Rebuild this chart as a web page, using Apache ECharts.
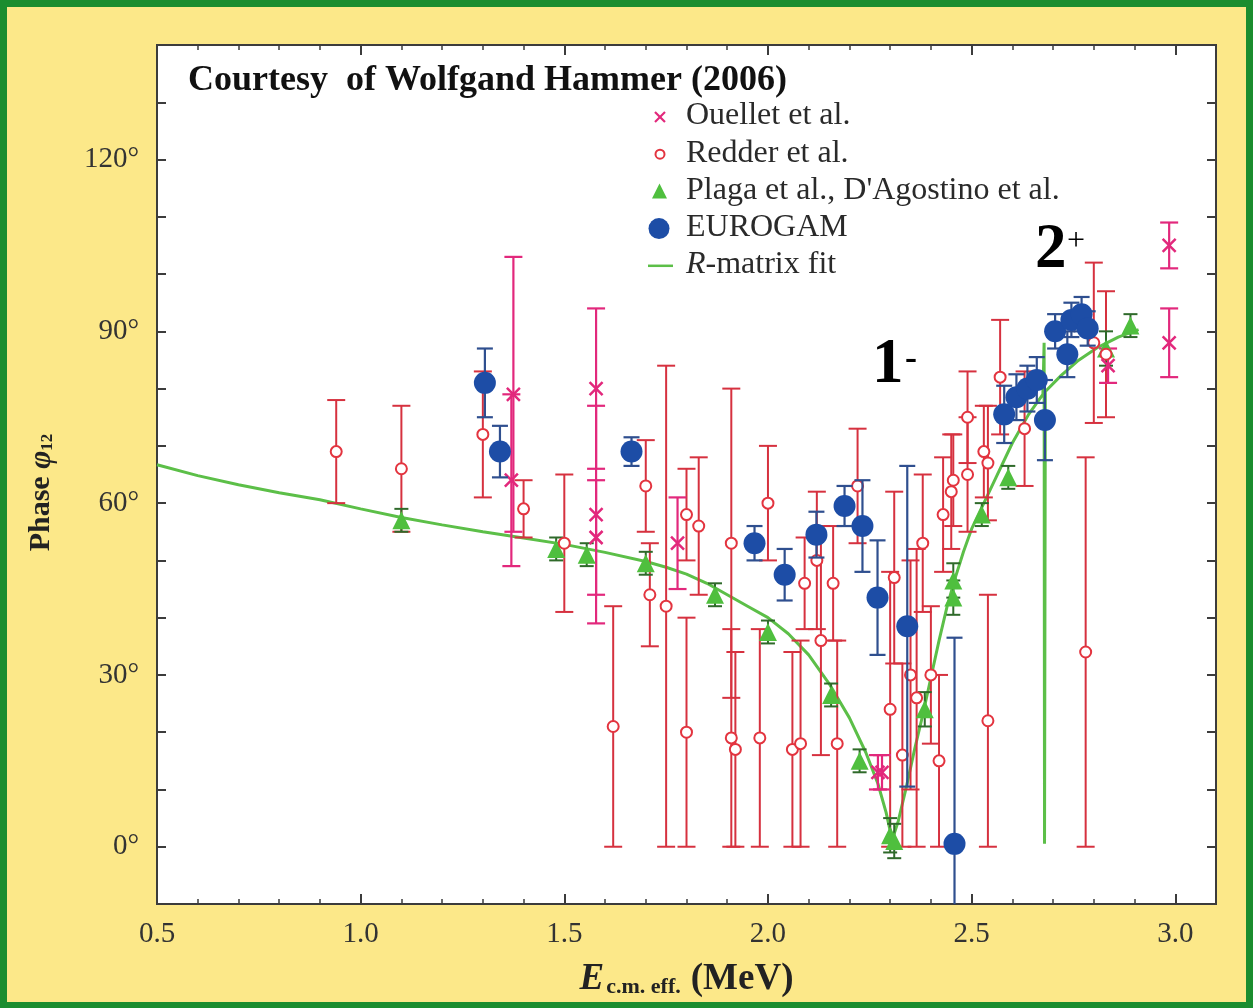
<!DOCTYPE html>
<html>
<head>
<meta charset="utf-8">
<script src="https://cdn.jsdelivr.net/npm/echarts@6/dist/echarts.min.js"></script>
<style>
  html, body { margin: 0; padding: 0; background: #1b8d2f; }
  #chart { width: 1253px; height: 1008px; }
</style>
</head>
<body>
<div id="chart"></div>
<script>
// ---- E1/E2 relative phase phi12 of 12C(alpha,gamma)16O vs effective c.m. energy ----

// R-matrix fit curve (E in MeV, phase in degrees)
const fitE = [0.5, 0.6, 0.7, 0.8, 0.9, 1.0, 1.1, 1.2, 1.3, 1.4, 1.5, 1.6, 1.7, 1.75, 1.8, 1.85, 1.9, 1.95, 2.0,
  2.05, 2.1, 2.15, 2.2, 2.24, 2.27, 2.29, 2.305, 2.32, 2.34, 2.36, 2.38, 2.4, 2.42, 2.44, 2.46, 2.48, 2.5,
  2.53, 2.56, 2.6, 2.64, 2.675, 2.678, 2.679, 2.681, 2.72, 2.76, 2.81, 2.86, 2.91];
const fitPhase = [66.7, 64.8, 63.2, 61.8, 60.6, 59.0, 57.5, 56.2, 55.0, 53.9, 52.8, 51.4, 49.8, 48.8, 47.6, 46.0, 44.0, 42.0, 40.0,
  37.2, 33.5, 28.5, 22.5, 16.5, 11.0, 6.0, 1.2, 4.5, 10.5, 17.0, 23.0, 29.5, 36.0, 42.0, 47.0, 51.5, 55.5,
  60.0, 64.5, 70.5, 75.5, 79.0, 88.0, 0.5, 79.5, 82.3, 84.8, 87.2, 89.0, 90.3];

// Ouellet et al.
const ouelletE = [1.375, 1.37, 1.578, 1.578, 1.578, 1.778, 2.27, 2.28, 2.835, 2.985, 2.985];
const ouelletPhase = [79, 64, 80, 58, 54, 53, 13, 13, 84, 105, 88];
const ouelletErr = [24, 15, 14, 19, 10, 8, 3, 3, 3, 4, 6];

// Redder et al.
const redderE = [0.94, 1.10, 1.30, 1.40, 1.50, 1.62, 1.70, 1.71, 1.75, 1.80, 1.80, 1.83, 1.91, 1.91, 1.92, 1.98,
  2.00, 2.06, 2.08, 2.09, 2.12, 2.13, 2.16, 2.17, 2.22, 2.30, 2.31, 2.33, 2.35, 2.365, 2.38, 2.40, 2.42,
  2.43, 2.45, 2.455, 2.49, 2.49, 2.53, 2.54, 2.54, 2.57, 2.63, 2.78, 2.80, 2.83];
const redderPhase = [69, 66, 72, 59, 53, 21, 63, 44, 42, 58, 20, 56, 53, 19, 17, 19,
  60, 17, 18, 46, 50, 36, 46, 18, 63, 24, 47, 16, 30, 26, 53, 30, 15,
  58, 62, 64, 75, 65, 69, 67, 22, 82, 73, 34, 88, 86];
const redderErr = [9, 11, 11, 5, 12, 21, 8, 9, 42, 8, 20, 12, 27, 19, 17, 19,
  10, 17, 18, 8, 12, 20, 10, 18, 10, 24, 15, 16, 20, 26, 12, 12, 15,
  10, 10, 8, 8, 10, 8, 10, 22, 10, 10, 34, 14, 11];

// Plaga et al., D'Agostino et al.
const plagaE = [1.10, 1.48, 1.555, 1.70, 1.87, 2.00, 2.155, 2.225, 2.30, 2.31, 2.385, 2.455, 2.455, 2.525, 2.59, 2.83, 2.89];
const plagaPhase = [57, 52, 51, 49.5, 44, 37.5, 26.5, 15, 2, 1, 24, 46.5, 43.5, 58, 64.5, 87, 91];
const plagaErr = [2, 2, 2, 2, 2, 2, 2, 2, 3, 3, 3, 3, 3, 2, 2, 3, 2];

// EUROGAM
const eurogamE = [1.305, 1.342, 1.665, 1.967, 2.041, 2.119, 2.188, 2.232, 2.269, 2.342, 2.458,
  2.58, 2.61, 2.637, 2.66, 2.68, 2.705, 2.735, 2.745, 2.77, 2.785];
const eurogamPhase = [81, 69, 69, 53, 47.5, 54.5, 59.5, 56, 43.5, 38.5, 0.5,
  75.5, 78.5, 80, 81.5, 74.5, 90, 86, 92, 93, 90.5];
const eurogamErr = [6, 4.5, 2.5, 3, 4.5, 4, 3.5, 8, 10, 28, 36,
  5, 4, 4, 4, 7, 3, 4, 3, 3, 3];

// axis ticks
const xTickStep = 0.5;
const yTickStep = 10;
const yLabelStep = 30;

const SERIF = '"Liberation Serif", "Times New Roman", serif';
const RED = '#e3343f';
const MAGENTA = '#e2287c';
const GREEN = '#4fbf3e';
const FITGREEN = '#5cbf48';
const BLUE = '#1d4da6';
const FRAME = '#3c3c3c';

function pairs(xs, ys) { return xs.map((x, i) => [x, ys[i]]); }

function errorBars(name, E, phase, err, color, capHalf, width, z) {
  return {
    type: 'custom',
    name: name,
    z: z,
    silent: true,
    data: E.map((e, i) => [e, phase[i] - err[i], phase[i] + err[i]]),
    encode: { x: 0, y: [1, 2] },
    renderItem: function (params, api) {
      const e = api.value(0);
      const lo = api.coord([e, api.value(1)]);
      const hi = api.coord([e, api.value(2)]);
      const cs = params.coordSys;
      const top = cs.y, bot = cs.y + cs.height;
      const yHi = Math.max(hi[1], top);
      const yLo = Math.min(lo[1], bot);
      const st = { stroke: color, lineWidth: width };
      const kids = [{ type: 'line', shape: { x1: lo[0], y1: yHi, x2: lo[0], y2: yLo }, style: st }];
      if (hi[1] >= top) kids.push({ type: 'line', shape: { x1: hi[0] - capHalf, y1: hi[1], x2: hi[0] + capHalf, y2: hi[1] }, style: st });
      if (lo[1] <= bot) kids.push({ type: 'line', shape: { x1: lo[0] - capHalf, y1: lo[1], x2: lo[0] + capHalf, y2: lo[1] }, style: st });
      return { type: 'group', children: kids };
    }
  };
}

const chart = echarts.init(document.getElementById('chart'), null, { renderer: 'canvas' });

// legend rows drawn as graphic elements
const legendRows = [
  { label: 'Ouellet et al.', kind: 'cross' },
  { label: 'Redder et al.', kind: 'ring' },
  { label: "Plaga et al., D'Agostino et al.", kind: 'tri' },
  { label: 'EUROGAM', kind: 'dot' },
  { label: '{i|R}-matrix fit', kind: 'line' }
];
const legendX = 660, legendY0 = 117, legendDy = 37.2;
const legendGraphics = [];
legendRows.forEach((r, i) => {
  const cy = legendY0 + i * legendDy;
  if (r.kind === 'cross') {
    legendGraphics.push({ type: 'line', shape: { x1: legendX - 5, y1: cy - 5, x2: legendX + 5, y2: cy + 5 }, style: { stroke: MAGENTA, lineWidth: 2.2 } });
    legendGraphics.push({ type: 'line', shape: { x1: legendX + 5, y1: cy - 5, x2: legendX - 5, y2: cy + 5 }, style: { stroke: MAGENTA, lineWidth: 2.2 } });
  } else if (r.kind === 'ring') {
    legendGraphics.push({ type: 'circle', shape: { cx: legendX, cy: cy, r: 4.5 }, style: { fill: '#fff', stroke: RED, lineWidth: 2 } });
  } else if (r.kind === 'tri') {
    legendGraphics.push({ type: 'polygon', shape: { points: [[legendX - 8, cy + 7], [legendX + 7, cy + 7], [legendX - 0.5, cy - 8]] }, style: { fill: GREEN } });
  } else if (r.kind === 'dot') {
    legendGraphics.push({ type: 'circle', shape: { cx: legendX - 1, cy: cy, r: 10.5 }, style: { fill: BLUE } });
  } else {
    legendGraphics.push({ type: 'line', shape: { x1: legendX - 12, y1: cy, x2: legendX + 13, y2: cy }, style: { stroke: FITGREEN, lineWidth: 2.5 } });
  }
  legendGraphics.push({
    type: 'text', left: 686, top: cy - 17,
    style: {
      text: r.label, fill: '#2a2a2a', font: '32px ' + SERIF,
      rich: { i: { fontStyle: 'italic', fontSize: 32, fontFamily: SERIF, fill: '#2a2a2a' } }
    }
  });
});

const tickStyle = { color: FRAME, width: 2 };

const option = {
  backgroundColor: '#1b8d2f',
  animation: false,
  graphic: [
    { type: 'rect', shape: { x: 7, y: 7, width: 1239, height: 995 }, style: { fill: '#fce889' }, z: -10, silent: true },
    {
      type: 'text', left: 188, top: 63, z: 50,
      style: { text: 'Courtesy  of Wolfgand Hammer (2006)', fill: '#111', font: 'bold 36px ' + SERIF }
    },
    { type: 'group', z: 50, children: legendGraphics },
    { type: 'text', left: 872, top: 334, z: 50, style: { text: '1', fill: '#000', font: 'bold 63px ' + SERIF } },
    { type: 'text', left: 905, top: 342, z: 50, style: { text: '-', fill: '#000', font: 'bold 36px ' + SERIF } },
    { type: 'text', left: 1035, top: 219, z: 50, style: { text: '2', fill: '#000', font: 'bold 63px ' + SERIF } },
    { type: 'text', left: 1067, top: 226, z: 50, style: { text: '+', fill: '#000', font: '32px ' + SERIF } }
  ],
  grid: {
    left: 157, right: 37, top: 45, bottom: 104,
    show: true, backgroundColor: '#ffffff', borderColor: FRAME, borderWidth: 2
  },
  xAxis: [
    {
      type: 'value', min: 0.5, max: 3.1, interval: xTickStep,
      name: '{e|E}{s|c.m. eff.}   {m|(MeV)}', nameLocation: 'middle', nameGap: 56,
      nameTextStyle: {
        rich: {
          e: { fontFamily: SERIF, fontWeight: 'bold', fontStyle: 'italic', fontSize: 37, color: '#222' },
          s: { fontFamily: SERIF, fontWeight: 'bold', fontSize: 22, color: '#222', padding: [16, 0, 0, 2] },
          m: { fontFamily: SERIF, fontWeight: 'bold', fontSize: 37, color: '#222' }
        }
      },
      axisLine: { show: false, onZero: false },
      axisTick: { inside: true, length: 10, lineStyle: tickStyle },
      minorTick: { show: true, splitNumber: 5, length: 5, lineStyle: { color: FRAME, width: 1.5 } },
      splitLine: { show: false },
      axisLabel: {
        margin: 16, showMaxLabel: false, fontFamily: SERIF, fontSize: 29, color: '#333',
        formatter: v => v.toFixed(1)
      }
    },
    {
      type: 'value', position: 'top', min: 0.5, max: 3.1, interval: xTickStep,
      axisLine: { show: false, onZero: false },
      axisTick: { inside: true, length: 10, lineStyle: tickStyle },
      minorTick: { show: true, splitNumber: 5, length: 5, lineStyle: { color: FRAME, width: 1.5 } },
      splitLine: { show: false }, axisLabel: { show: false }
    }
  ],
  yAxis: [
    {
      type: 'value', min: -10, max: 140, interval: yTickStep,
      name: '{p|Phase }{f|φ}{s|12}', nameLocation: 'middle', nameGap: 100, nameRotate: 90,
      nameTextStyle: {
        padding: [0, 0, 0, -36],
        rich: {
          p: { fontFamily: SERIF, fontWeight: 'bold', fontSize: 30, color: '#222' },
          f: { fontFamily: SERIF, fontWeight: 'bold', fontStyle: 'italic', fontSize: 31, color: '#222' },
          s: { fontFamily: SERIF, fontWeight: 'bold', fontSize: 17, color: '#222', padding: [12, 0, 0, 0] }
        }
      },
      axisLine: { show: false, onZero: false },
      axisTick: { inside: true, length: 9, lineStyle: tickStyle },
      splitLine: { show: false },
      axisLabel: {
        margin: 18, fontFamily: SERIF, fontSize: 29, color: '#333',
        formatter: v => (v % yLabelStep === 0 ? v + '°' : '')
      }
    },
    {
      type: 'value', position: 'right', min: -10, max: 140, interval: yTickStep,
      axisLine: { show: false, onZero: false },
      axisTick: { inside: true, length: 9, lineStyle: tickStyle },
      splitLine: { show: false }, axisLabel: { show: false }
    }
  ],
  series: [
    {
      type: 'line', name: 'R-matrix fit', data: pairs(fitE, fitPhase), z: 3,
      showSymbol: false, symbol: 'none', silent: true,
      lineStyle: { color: FITGREEN, width: 3 }
    },
    errorBars('Redder et al. errors', redderE, redderPhase, redderErr, '#d6313f', 9, 2, 4),
    errorBars('Ouellet et al. errors', ouelletE, ouelletPhase, ouelletErr, MAGENTA, 9, 2.2, 5),
    errorBars('Plaga errors', plagaE, plagaPhase, plagaErr, '#2f6a2a', 7, 2, 6),
    {
      type: 'scatter', name: "Plaga et al., D'Agostino et al.", data: pairs(plagaE, plagaPhase), z: 7,
      symbol: 'triangle', symbolSize: 18, itemStyle: { color: GREEN, opacity: 1 }
    },
    {
      type: 'scatter', name: 'Redder et al.', data: pairs(redderE, redderPhase), z: 8,
      symbol: 'circle', symbolSize: 11, itemStyle: { color: '#fff', borderColor: RED, borderWidth: 2, opacity: 1 }
    },
    {
      type: 'scatter', name: 'Ouellet et al.', data: pairs(ouelletE, ouelletPhase), z: 9,
      symbol: 'path://M0,0L10,10M10,0L0,10', symbolSize: 13,
      itemStyle: { color: 'none', borderColor: MAGENTA, borderWidth: 2.5, opacity: 1 }
    },
    errorBars('EUROGAM errors', eurogamE, eurogamPhase, eurogamErr, '#2f4f8f', 8, 2.2, 10),
    {
      type: 'scatter', name: 'EUROGAM', data: pairs(eurogamE, eurogamPhase), z: 11,
      symbol: 'circle', symbolSize: 22, itemStyle: { color: BLUE, opacity: 1 }
    }
  ]
};

chart.setOption(option);
</script>
</body>
</html>
